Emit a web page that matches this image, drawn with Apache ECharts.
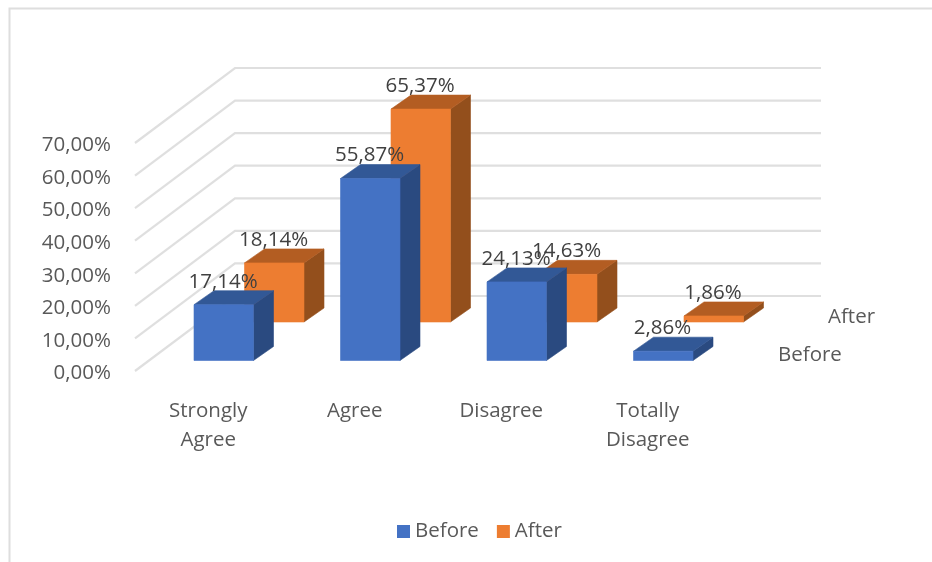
<!DOCTYPE html>
<html>
<head>
<meta charset="utf-8">
<style>html,body{margin:0;padding:0;background:#fff}#c{width:932px;height:562px}</style>
<script src="https://cdn.jsdelivr.net/npm/echarts@6/dist/echarts.min.js"></script>
</head>
<body>
<div id="c"></div>
<script>
const categories = ['Strongly\nAgree', 'Agree', 'Disagree', 'Totally\nDisagree'];
const beforeValues = [17.14, 55.87, 24.13, 2.86];
const afterValues = [18.14, 65.37, 14.63, 1.86];
const tickValues = [0, 10, 20, 30, 40, 50, 60, 70];
const seriesNames = ['Before', 'After'];

const FONT = '"Open Sans", "Noto Sans", sans-serif';
const FONT_SIZE = 20.5;
const WALL = [100, -75];
const BAR_DEPTH = [20, -14];
const pct = v => v.toFixed(2).replace('.', ',') + '%';

function polygon(points, fill, z2) {
  return { type: 'polygon', shape: { points }, style: { fill, stroke: fill, lineWidth: 0.6 }, z2 };
}

function barRenderer(shift, colors) {
  return function (params, api) {
    const band = api.size([1, 0])[0];
    const w = band * 0.406;
    const value = api.value(1);
    const base = api.coord([api.value(0), 0]);
    const top = api.coord([api.value(0), value]);
    const cx = base[0] + shift[0];
    const l = cx - w / 2, r = cx + w / 2;
    const b = base[1] + shift[1], t = top[1] + shift[1];
    const dx = BAR_DEPTH[0], dy = BAR_DEPTH[1];
    return {
      type: 'group',
      children: [
        polygon([[r, b], [r + dx, b + dy], [r + dx, t + dy], [r, t]], colors.side, 1),
        polygon([[l, t], [r, t], [r + dx, t + dy], [l + dx, t + dy]], colors.top, 1),
        polygon([[l, t], [r, t], [r, b], [l, b]], colors.front, 2),
        {
          type: 'text', z2: 10,
          style: { x: cx - 0.7, y: t - 23, text: pct(value), align: 'center', verticalAlign: 'middle',
            fontSize: FONT_SIZE, fontFamily: FONT, fill: '#404040' }
        }
      ]
    };
  };
}

function wallRenderer(params, api) {
  const cs = params.coordSys;
  const y = api.coord([0, api.value(1)])[1];
  const left = cs.x, right = cs.x + cs.width;
  return {
    type: 'polyline',
    shape: { points: [[left, y], [left + WALL[0], y + WALL[1]], [right + WALL[0], y + WALL[1]]] },
    style: { fill: 'none', stroke: '#dfdfdf', lineWidth: 2.2 }
  };
}

function depthLabelRenderer(params, api) {
  const cs = params.coordSys;
  const row = params.dataIndex;
  const frac = row === 0 ? 0.25 : 0.75;
  const y0 = api.coord([0, 0])[1];
  return {
    type: 'text',
    style: {
      x: cs.x + cs.width + WALL[0] * frac + 32,
      y: y0 + WALL[1] * frac + (row === 0 ? 3 : 2),
      text: seriesNames[row], align: 'left', verticalAlign: 'middle',
      fontSize: FONT_SIZE, fontFamily: FONT, fill: '#595959'
    }
  };
}

const chart = echarts.init(document.getElementById('c'), null, { renderer: 'canvas' });
chart.setOption({
  animation: false,
  backgroundColor: '#fff',
  graphic: [{
    type: 'polyline', silent: true,
    shape: { points: [[9.5, 562], [9.5, 8.5], [932, 8.5]] },
    style: { fill: 'none', stroke: '#dedede', lineWidth: 2 }
  }],
  legend: {
    data: seriesNames, left: 392, top: 516, itemWidth: 13, itemHeight: 13, itemGap: 18,
    icon: 'rect', selectedMode: false,
    textStyle: { fontSize: FONT_SIZE, fontFamily: FONT, color: '#595959' }
  },
  grid: { left: 135, top: 143, width: 586, height: 228 },
  xAxis: {
    type: 'category', data: categories,
    axisLine: { show: false }, axisTick: { show: false },
    axisLabel: { interval: 0, margin: 26, fontSize: FONT_SIZE, fontFamily: FONT, color: '#595959', lineHeight: 29 }
  },
  yAxis: {
    type: 'value', min: 0, max: 70, interval: 10,
    axisLine: { show: false }, axisTick: { show: false }, splitLine: { show: false },
    axisLabel: { margin: 24, fontSize: FONT_SIZE, fontFamily: FONT, color: '#595959', verticalAlign: 'top', lineHeight: 5, formatter: v => pct(v) }
  },
  series: [
    { type: 'custom', name: 'walls', z: 1, silent: true, renderItem: wallRenderer,
      data: tickValues.map(v => [0, v]) },
    { type: 'custom', name: 'depth', z: 1, silent: true, renderItem: depthLabelRenderer,
      data: seriesNames.map(() => [0, 0]) },
    { type: 'custom', name: 'Before', z: 4, renderItem: barRenderer([15.5, -10.5], { front: '#4472C4', top: '#325896', side: '#2A4A80' }),
      itemStyle: { color: '#4472C4' },
      data: beforeValues.map((v, i) => [i, v]) },
    { type: 'custom', name: 'After', z: 3, renderItem: barRenderer([66, -49], { front: '#ED7D31', top: '#B35D22', side: '#934F1C' }),
      itemStyle: { color: '#ED7D31' },
      data: afterValues.map((v, i) => [i, v]) }
  ]
});
</script>
</body>
</html>
